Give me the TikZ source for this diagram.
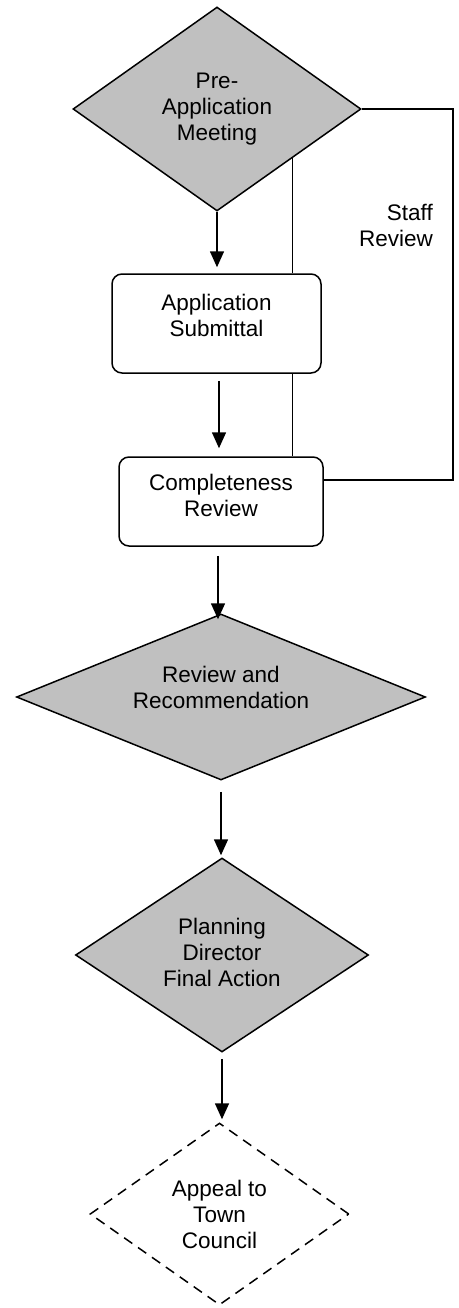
\documentclass[tikz,border=0pt]{standalone}
\usepackage{fontspec}
\setmainfont{Liberation Sans}
\usetikzlibrary{shapes.geometric,arrows.meta,calc}
\definecolor{shade}{HTML}{C0C0C0}
\begin{document}
\begin{tikzpicture}[x=1pt,y=-1pt,
  every node/.style={font=\fontsize{22.5}{26}\selectfont, align=center, inner sep=0pt},
  decision/.style={diamond, draw, line width=1.5pt, fill=shade},
  optional/.style={diamond, draw, line width=1.5pt, dash pattern=on 10pt off 7pt, fill=white},
  process/.style={rectangle, draw, line width=1.5pt, rounded corners=10pt, fill=white},
  flowarrow/.style={line width=1.6pt, -{Triangle[length=16pt,width=14pt]}},
  link/.style={line width=1.4pt}
]
\useasboundingbox (0,0) rectangle (458,1308);

% shapes of the process
\node[decision, aspect=1.41, minimum width=288pt, minimum height=204pt] (pre) at (217,109) {Pre-\\Application\\Meeting};
\node[process, minimum width=209pt, minimum height=99pt, text depth=16pt] (sub) at (216.5,323.5) {Application\\Submittal};
\node[process, minimum width=204pt, minimum height=89pt, text depth=12pt] (comp) at (221,501.5) {Completeness\\Review};
\node[decision, aspect=2.46, minimum width=409pt, minimum height=166pt, text depth=19pt] (rev) at (221,697) {Review and\\Recommendation};
\node[decision, aspect=1.51, minimum width=293pt, minimum height=194pt, text depth=6pt] (dir) at (222,955) {Planning\\Director\\Final Action};
\node[optional, aspect=1.42, minimum width=259pt, minimum height=182pt] (app) at (219.5,1214) {Appeal to\\Town\\Council};

% staff review loop
\coordinate (loop) at (453,480);
\coordinate (tap) at ($(pre.east)!0.48!(pre.south)$);
\draw[link] (pre.east) -| (loop) -- (loop -| comp.east);
\draw[link] (tap) -- (tap |- sub.north);
\draw[link] (sub.south -| tap) -- (comp.north -| tap);
\node[align=right, anchor=east] (staff) at (433,225) {Staff\\Review};

% main flow
\draw[flowarrow, shorten >=6pt] (pre.south) -- (pre.south |- sub.north);
\draw[flowarrow, shorten <=7pt, shorten >=8pt] (sub.south) ++(2.5,0) coordinate (s2) -- (s2 |- comp.north);
\draw[flowarrow, shorten <=9pt, shorten >=-6pt] (comp.south) ++(-3,0) coordinate (s3) -- (s3 |- rev.north);
\draw[flowarrow, shorten <=11pt, shorten >=2pt] (rev.south) -- (rev.south |- dir.north);
\draw[flowarrow, shorten <=6pt, shorten >=3pt] (dir.south) -- (dir.south |- app.north);
\end{tikzpicture}
\end{document}
